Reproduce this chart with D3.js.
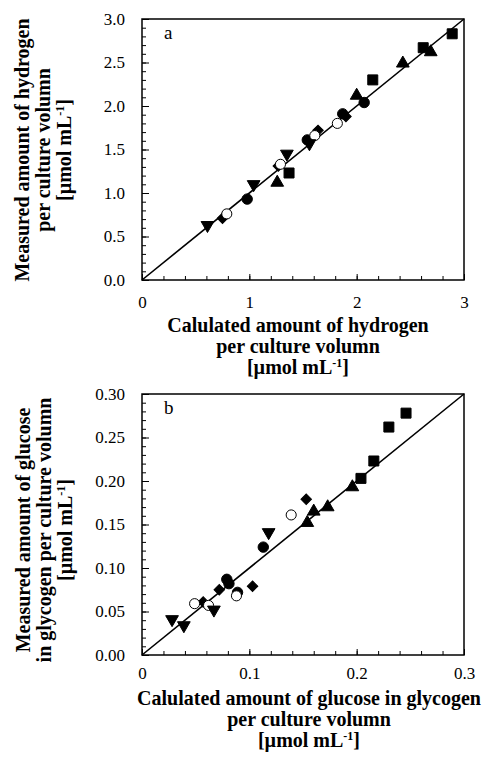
<!DOCTYPE html>
<html>
<head>
<meta charset="utf-8">
<script src="https://cdn.jsdelivr.net/npm/d3@7"></script>
<style>
  body { margin: 0; background: #fff; }
  text { font-family: "Liberation Serif", "Times New Roman", serif; fill: #000; }
  .axis path { display: none; }
  .axis line { stroke: #000; stroke-width: 1; }
  .axis text { font-size: 17px; }
  .title { font-size: 20px; font-weight: bold; }
</style>
</head>
<body>
<svg id="chart" width="482" height="757"></svg>
<script>
// panel a: hydrogen, [calculated, measured]
const h2Square = [[1.37, 1.23], [2.15, 2.30], [2.62, 2.67], [2.89, 2.83]];
const h2Triangle = [[1.26, 1.12], [2.00, 2.12], [2.43, 2.49], [2.69, 2.62]];
const h2Circle = [[0.98, 0.93], [1.54, 1.61], [1.87, 1.91], [2.07, 2.04]];
const h2Diamond = [[0.75, 0.71], [1.27, 1.31], [1.64, 1.72], [1.90, 1.88]];
const h2Open = [[0.79, 0.76], [1.29, 1.33], [1.61, 1.66], [1.82, 1.80]];
const h2Down = [[0.61, 0.63], [1.04, 1.10], [1.35, 1.45], [1.56, 1.57]];

// panel b: glucose in glycogen, [calculated, measured]
const glcSquare = [[0.204, 0.203], [0.216, 0.223], [0.230, 0.262], [0.246, 0.278]];
const glcTriangle = [[0.154, 0.152], [0.160, 0.165], [0.173, 0.170], [0.196, 0.193]];
const glcCircle = [[0.079, 0.087], [0.081, 0.082], [0.089, 0.072], [0.113, 0.124]];
const glcDiamond = [[0.057, 0.061], [0.072, 0.075], [0.103, 0.079], [0.153, 0.179]];
const glcOpen = [[0.049, 0.059], [0.062, 0.057], [0.088, 0.068], [0.139, 0.161]];
const glcDown = [[0.028, 0.041], [0.039, 0.034], [0.067, 0.052], [0.118, 0.141]];

const h2XTicks = [0, 1, 2, 3];
const h2YTicks = [0, 0.5, 1, 1.5, 2, 2.5, 3];
const glcXTicks = [0, 0.1, 0.2, 0.3];
const glcYTicks = [0, 0.05, 0.1, 0.15, 0.2, 0.25, 0.3];

const svg = d3.select('#chart');

// marker shapes
const shapes = {
  square: {type: d3.symbolSquare, size: 100, rotate: 0, fill: '#000'},
  triangle: {type: d3.symbolTriangle, size: 70, rotate: 0, fill: '#000'},
  circle: {type: d3.symbolCircle, size: 85, rotate: 0, fill: '#000'},
  diamond: {type: d3.symbolSquare, size: 55, rotate: 45, fill: '#000'},
  open: {type: d3.symbolCircle, size: 80, rotate: 0, fill: '#fff'},
  down: {type: d3.symbolTriangle, size: 70, rotate: 180, fill: '#000'},
};

const addLine = (t, line) => {
  if (line === 'unit') {
    t.append('tspan').text('[µmol mL');
    t.append('tspan').attr('dy', -7).style('font-size', '12px').text('-1');
    t.append('tspan').attr('dy', 7).text(']');
  } else {
    t.text(line);
  }
};

const drawPanel = (cfg) => {
  const top = cfg.bottom - cfg.height;
  const x = d3.scaleLinear().domain([0, cfg.max]).range([142, 464]);
  const y = d3.scaleLinear().domain([0, cfg.max]).range([cfg.bottom, top]);
  const g = svg.append('g');

  // minor ticks
  g.append('g')
      .attr('class', 'axis')
      .attr('transform', `translate(0,${ cfg.bottom })`)
      .call(d3.axisBottom(x).tickValues(d3.range(0, cfg.max + 1e-9, cfg.max / 15)).tickSize(-4).tickFormat(''));
  g.append('g')
      .attr('class', 'axis')
      .attr('transform', 'translate(142,0)')
      .call(d3.axisLeft(y).tickValues(d3.range(0, cfg.max + 1e-9, cfg.max / 30)).tickSize(-4).tickFormat(''));

  // major ticks with labels
  g.append('g')
      .attr('class', 'axis')
      .attr('transform', `translate(0,${ cfg.bottom })`)
      .call(d3.axisBottom(x).tickValues(cfg.xTicks).tickSize(-6).tickPadding(cfg.xPad).tickFormat(cfg.xFormat));
  g.append('g')
      .attr('class', 'axis')
      .attr('transform', 'translate(142,0)')
      .call(d3.axisLeft(y).tickValues(cfg.yTicks).tickSize(-7).tickPadding(17).tickFormat(cfg.yFormat));

  // frame
  g.append('rect')
      .attr('x', x(0))
      .attr('y', y(cfg.max))
      .attr('width', x(cfg.max) - x(0))
      .attr('height', y(0) - y(cfg.max))
      .attr('fill', 'none')
      .attr('stroke', '#000')
      .attr('stroke-width', 1.5);

  // 1:1 line
  g.append('line')
      .attr('x1', x(0)).attr('y1', y(0))
      .attr('x2', x(cfg.max)).attr('y2', y(cfg.max))
      .attr('stroke', '#000')
      .attr('stroke-width', 1.6);

  cfg.series.forEach(([key, data]) => {
    const s = shapes[key];
    g.selectAll(null)
        .data(data)
      .enter().append('path')
        .attr('d', d3.symbol().type(s.type).size(s.size))
        .attr('transform', (d) => `translate(${ x(d[0]) },${ y(d[1]) }) rotate(${ s.rotate })`)
        .attr('fill', s.fill)
        .attr('stroke', '#000')
        .attr('stroke-width', 1);
  });

  g.append('text')
      .attr('x', 164)
      .attr('y', top + 20)
      .style('font-size', '19px')
      .text(cfg.letter);

  // x title
  cfg.xTitle.forEach((line, i) => {
    const t = g.append('text')
        .attr('class', 'title')
        .attr('x', cfg.xTitleX)
        .attr('y', cfg.bottom + cfg.xTitleGap + i * 21)
        .attr('text-anchor', 'middle');
    addLine(t, line);
  });

  // y title
  cfg.yTitle.forEach((line, i) => {
    const cx = cfg.yTitleX + i * 21;
    const t = g.append('text')
        .attr('class', 'title')
        .attr('transform', `translate(${ cx },${ cfg.yTitleY }) rotate(-90)`)
        .attr('text-anchor', 'middle');
    addLine(t, line);
  });
}; // drawPanel

drawPanel({
  max: 3,
  bottom: 280,
  height: 261,
  letter: 'a',
  xTicks: h2XTicks,
  yTicks: h2YTicks,
  xFormat: d3.format('d'),
  yFormat: d3.format('.1f'),
  xPad: 16,
  xTitle: ['Calulated amount of hydrogen', 'per culture volumn', 'unit'],
  yTitle: ['Measured amount of hydrogen', 'per culture volumn', 'unit'],
  xTitleX: 298,
  xTitleGap: 52,
  yTitleX: 29,
  yTitleY: 150,
  series: [['square', h2Square], ['triangle', h2Triangle], ['circle', h2Circle],
    ['diamond', h2Diamond], ['open', h2Open], ['down', h2Down]],
});

drawPanel({
  max: 0.3,
  bottom: 655,
  height: 261,
  letter: 'b',
  xTicks: glcXTicks,
  yTicks: glcYTicks,
  xFormat: (d) => d === 0 ? '0' : d3.format('.1f')(d),
  yFormat: d3.format('.2f'),
  xPad: 12,
  xTitle: ['Calulated amount of glucose in glycogen', 'per culture volumn', 'unit'],
  yTitle: ['Measured amount of glucose', 'in glycogen per culture volumn', 'unit'],
  xTitleX: 309,
  xTitleGap: 50,
  yTitleX: 30,
  yTitleY: 530,
  series: [['square', glcSquare], ['triangle', glcTriangle], ['circle', glcCircle],
    ['diamond', glcDiamond], ['open', glcOpen], ['down', glcDown]],
});
</script>
</body>
</html>
